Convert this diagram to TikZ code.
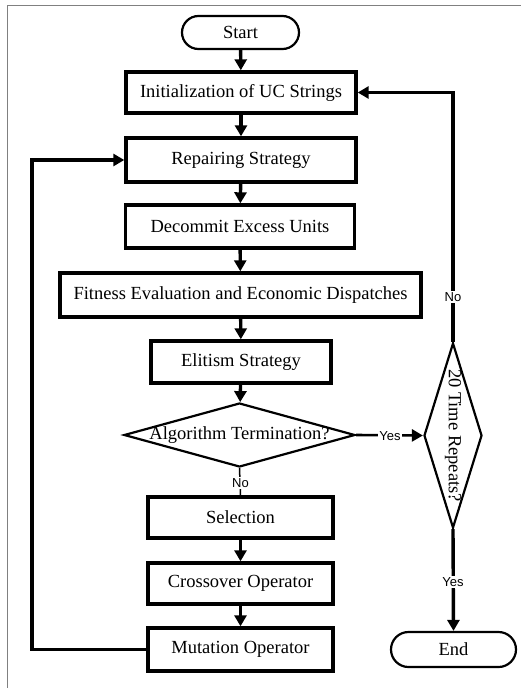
\documentclass[tikz,border=0pt]{standalone}
\usepackage{fontspec}
\setmainfont{Liberation Serif}
\setsansfont{Liberation Sans}
\usetikzlibrary{arrows.meta,shapes.geometric,shapes.misc}
\tikzset{
  box/.style={draw, line width=3.4pt, inner sep=0pt, font=\fontsize{18.5}{20}\selectfont},
  term/.style={draw, rounded rectangle, line width=2.2pt, inner sep=0pt, font=\fontsize{18.5}{20}\selectfont},
  dia/.style={draw, diamond, line width=2.2pt, inner sep=0pt},
  diatext/.style={inner sep=0pt, font=\fontsize{18.5}{20}\selectfont},
  conn/.style={line width=3.4pt, -{Triangle[length=11pt,width=12pt]}},
  thinconn/.style={line width=2.6pt, -{Triangle[length=11pt,width=12pt]}},
  lab/.style={font=\sffamily\fontsize{13}{14}\selectfont, fill=white, inner sep=1.5pt},
  frame/.style={draw=black!50, line width=1pt}
}
\begin{document}
\begin{tikzpicture}[x=1pt,y=-1pt]
\useasboundingbox (0,0) rectangle (521,688);
\coordinate (f1) at (7.5,5);
\coordinate (f2) at (521,5);
\coordinate (f3) at (7.5,688);
\draw[frame] (f3) -- (f1) -- (f2);

\node[term, minimum width=117pt, minimum height=33pt] (start) at (240.5,32.5) {Start};
\node[box, minimum width=230pt, minimum height=41pt] (init) at (241,92.5) {Initialization of UC Strings};
\node[box, minimum width=230pt, minimum height=44pt] (repair) at (241,160) {Repairing Strategy};
\node[box, minimum width=229pt, minimum height=43pt] (decom) at (240,226.5) {Decommit Excess Units};
\node[box, minimum width=361pt, minimum height=44pt] (fit) at (240.5,295) {Fitness Evaluation and Economic Dispatches};
\node[box, minimum width=180pt, minimum height=42pt] (elit) at (241,362) {Elitism Strategy};
\node[dia, minimum width=231pt, minimum height=64pt] (algo) at (239.5,435) {};
\node[diatext] (algotext) at (algo.center) {Algorithm Termination?};
\node[box, minimum width=185pt, minimum height=41pt] (sel) at (240.5,517.5) {Selection};
\node[box, minimum width=185pt, minimum height=41pt] (cross) at (240.5,583.5) {Crossover Operator};
\node[box, minimum width=185pt, minimum height=43pt] (mut) at (240.5,649.5) {Mutation Operator};
\node[dia, minimum width=58pt, minimum height=185pt] (rep) at (453,435.5) {};
\node[diatext, rotate=-90] (reptext) at (rep.center) {20 Time Repeats?};
\node[term, minimum width=125pt, minimum height=35pt] (fin) at (453.5,649.5) {End};

\coordinate (lx) at (32,0);

\draw[conn] (start) -- (init);
\draw[conn] (init) -- (repair);
\draw[conn] (repair) -- (decom);
\draw[conn] (decom) -- (fit);
\draw[conn] (fit) -- (elit);
\draw[conn] (elit) -- (algo);
\draw[line width=1.5pt] (algo.south) -- (sel.north);
\node[lab] (no1) at (240.5,483) {No};
\draw[conn] (sel) -- (cross);
\draw[conn] (cross) -- (mut);
\draw[conn] (mut.west) -- (mut.west -| lx) -- (repair.west -| lx) -- (repair.west);
\draw[thinconn] (algo.east) -- (rep.west);
\node[lab] (yes1) at (390,436) {Yes};
\draw[conn] (rep.north) -- (rep.north |- init.east) -- (init.east);
\node[lab] (no2) at (453,297) {No};
\draw[conn] (rep.south) -- (fin.north);
\node[lab] (yes2) at (453,582) {Yes};
\end{tikzpicture}
\end{document}
